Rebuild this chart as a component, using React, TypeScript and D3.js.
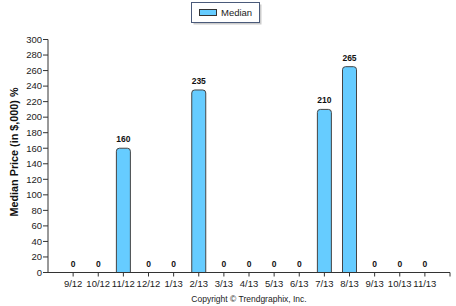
import React from "react";
import * as d3 from "d3";

const categories = ["9/12","10/12","11/12","12/12","1/13","2/13","3/13","4/13","5/13","6/13","7/13","8/13","9/13","10/13","11/13"];
const medianValues = [0,0,160,0,0,235,0,0,0,0,210,265,0,0,0];
const yTicks = [0,20,40,60,80,100,120,140,160,180,200,220,240,260,280,300];

const W = 456, H = 306;
const left = 48, right = 450, top = 39.5, bottom = 272.5;

export default function App() {
  const x = d3.scalePoint<string>().domain(categories).range([left, right]).padding(1);
  const y = d3.scaleLinear().domain([0, 300]).range([bottom, top]);
  const bw = 14;
  const r = 3;
  const font = "Arial, 'Liberation Sans', sans-serif";
  const barPath = (cx: number, v: number) => {
    const x0 = cx - bw / 2, x1 = cx + bw / 2, y0 = y(v), yb = y(0);
    return `M${x0},${yb}V${y0 + r}Q${x0},${y0} ${x0 + r},${y0}H${x1 - r}Q${x1},${y0} ${x1},${y0 + r}V${yb}`;
  };
  return (
    <svg width={W} height={H} style={{ position: "absolute", left: 0, top: 0, background: "#fff" }} fontFamily={font}>
      {/* legend */}
      <rect x={193.5} y={4.5} width={68} height={20} fill="#999" opacity={0.5} />
      <rect x={191.5} y={2.5} width={68} height={20} fill="#fff" stroke="#4a5a7a" strokeWidth={1} />
      <rect x={199.5} y={9.5} width={17} height={6} fill="#66ccff" stroke="#333" strokeWidth={1} />
      <text x={221} y={16} fontSize={9.5} fill="#222">Median</text>

      {/* y axis title */}
      <text transform="translate(17.5,152) rotate(-90)" textAnchor="middle" fontSize={10.8} fontWeight="bold" fill="#111">Median Price (in $,000) %</text>

      {/* bars */}
      {categories.map((c, i) => medianValues[i] > 0 ? (
        <path key={c} d={barPath(x(c)!, medianValues[i])} fill="#66ccff" stroke="#444" strokeWidth={1} />
      ) : null)}

      {/* value labels */}
      {categories.map((c, i) => (
        <text key={"l" + c} x={x(c)!} y={y(medianValues[i]) - 6} textAnchor="middle" fontSize={8.5} fontWeight="bold" fill="#111">{medianValues[i]}</text>
      ))}

      {/* y axis */}
      <line x1={left} x2={left} y1={top} y2={bottom} stroke="#333" />
      {yTicks.map(t => (
        <g key={t}>
          <line x1={left - 5} x2={left} y1={y(t)} y2={y(t)} stroke="#333" />
          <text x={left - 6} y={y(t)} dy="0.35em" textAnchor="end" fontSize={9.5} fill="#222">{t}</text>
        </g>
      ))}

      {/* x axis */}
      <line x1={left} x2={right} y1={bottom} y2={bottom} stroke="#333" />
      {categories.map(c => (
        <g key={"x" + c}>
          <line x1={x(c)!} x2={x(c)!} y1={bottom} y2={bottom + 4} stroke="#333" />
          <text x={x(c)!} y={bottom + 14} textAnchor="middle" fontSize={9.5} fill="#222">{c}</text>
        </g>
      ))}
      <line x1={right} x2={right} y1={bottom} y2={bottom + 4} stroke="#333" />

      <text x={249} y={302} textAnchor="middle" fontSize={8.5} fill="#222">Copyright © Trendgraphix, Inc.</text>
    </svg>
  );
}
